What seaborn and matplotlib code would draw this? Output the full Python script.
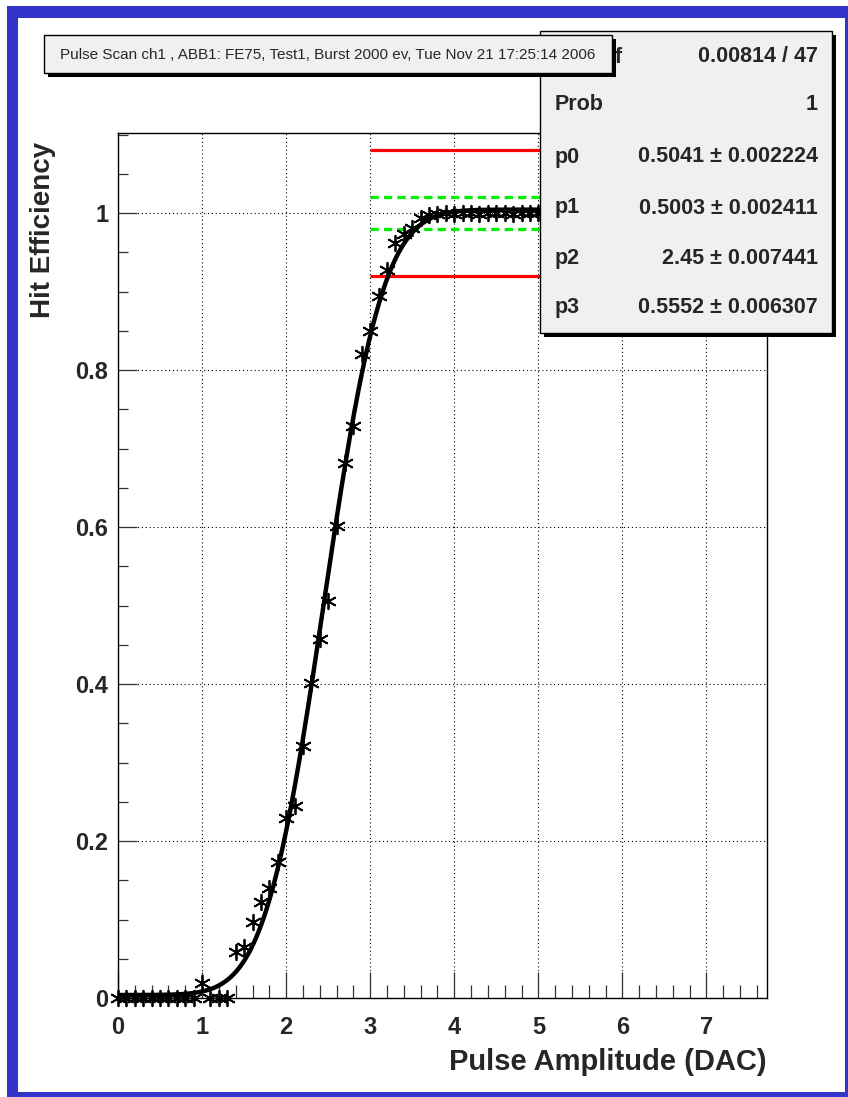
import math
import numpy as np
import pandas as pd
import matplotlib
matplotlib.use("Agg")
import matplotlib.pyplot as plt
from matplotlib.patches import Rectangle
from matplotlib.ticker import MultipleLocator, FuncFormatter
import seaborn as sns

# ---- pulse scan data (channel 1) ----
pulse_dac = [0.0, 0.1, 0.2, 0.3, 0.4, 0.5, 0.6, 0.7, 0.8, 0.9,
             1.0, 1.1, 1.2, 1.3, 1.4, 1.5, 1.6, 1.7, 1.8, 1.9,
             2.0, 2.1, 2.2, 2.3, 2.4, 2.5, 2.6, 2.7, 2.8, 2.9,
             3.0, 3.1, 3.2, 3.3, 3.4, 3.5, 3.6, 3.7, 3.8, 3.9,
             4.0, 4.1, 4.2, 4.3, 4.4, 4.5, 4.6, 4.7, 4.8, 4.9, 5.0]
hit_eff = [0.0, 0.0, 0.0, 0.0, 0.0, 0.0, 0.0, 0.0, 0.0, 0.0,
           0.019, 0.0, 0.0, 0.0, 0.059, 0.065, 0.097, 0.122, 0.140, 0.173,
           0.229, 0.245, 0.321, 0.401, 0.457, 0.506, 0.601, 0.681, 0.729, 0.820,
           0.850, 0.894, 0.927, 0.962, 0.973, 0.981, 0.994, 0.997, 0.999, 1.0,
           0.999, 1.0, 1.0, 0.999, 1.0, 1.0, 1.0, 0.999, 1.0, 1.0, 1.0]

# ---- fit result: p0 + p1 * erf((x - p2) / (sqrt(2) * p3)) ----
par_names = ["p0", "p1", "p2", "p3"]
par_values = [0.5041, 0.5003, 2.45, 0.5552]
par_errors = ["0.002224", "0.002411", "0.007441", "0.006307"]
chi2_ndf = "0.00814 / 47"
fit_prob = "1"
fit_range = [0.0, 5.0]

# ---- tolerance bands ----
band_start = 3.0
outer_band = [0.92, 1.08]
inner_band = [0.98, 1.02]

title_text = "Pulse Scan ch1 , ABB1: FE75, Test1, Burst 2000 ev, Tue Nov 21 17:25:14 2006"
x_title = "Pulse Amplitude (DAC)"
y_title = "Hit Efficiency"

W, H = 848, 1097
sns.set_style("ticks")
plt.rcParams["font.family"] = ["Liberation Sans", "DejaVu Sans"]

fig = plt.figure(figsize=(W / 100, H / 100), dpi=100, facecolor="white")


def fx(px):
    return px / W


def fy(py):
    return 1 - py / H


left, right, top, bottom = 118, 767, 133, 998
ax = fig.add_axes([fx(left), fy(bottom), (right - left) / W, (bottom - top) / H])
ax.set_facecolor("white")

scan = pd.DataFrame({"dac": pulse_dac, "eff": hit_eff})
p0, p1, p2, p3 = par_values
xf = np.linspace(fit_range[0], fit_range[1], 500)
yf = [p0 + p1 * math.erf((v - p2) / (math.sqrt(2) * p3)) for v in xf]
fit = pd.DataFrame({"dac": xf, "eff": yf})

# axis ranges, ticks and grid
ax.set_xlim(0, 7.72)
ax.set_ylim(0, 1.102)
ax.xaxis.set_major_locator(MultipleLocator(1))
ax.xaxis.set_minor_locator(MultipleLocator(0.2))
ax.yaxis.set_major_locator(MultipleLocator(0.2))
ax.yaxis.set_minor_locator(MultipleLocator(0.05))
ax.grid(True, which="major", color="black", linestyle=(0, (1, 2.5)), linewidth=0.8)

# tolerance bands
for yb in outer_band:
    ax.hlines(yb, band_start, 7.72, color="#ff0000", linewidth=2.3, zorder=3)
for yb in inner_band:
    ax.hlines(yb, band_start, 7.72, color="#00ee00", linewidth=2.3,
              linestyles=(0, (2.6, 1.6)), zorder=3)

sns.scatterplot(data=scan, x="dac", y="eff", ax=ax, marker=(6, 2, 0), s=125,
                color="black", linewidth=1.3, zorder=4, clip_on=False)
sns.lineplot(data=fit, x="dac", y="eff", ax=ax, color="black", linewidth=3.2,
             zorder=5)

for sp in ax.spines.values():
    sp.set_visible(True)
    sp.set_color("black")
    sp.set_linewidth(1.0)

ax.tick_params(axis="x", which="major", direction="in", length=18.5, width=0.9,
               top=False, bottom=True, labelsize=17, pad=13, color="#333333")
ax.tick_params(axis="x", which="minor", direction="in", length=9.3, width=0.9,
               top=False, bottom=True, color="#333333")
ax.tick_params(axis="y", which="major", direction="in", length=14, width=0.9,
               right=False, left=True, labelsize=17, pad=7, color="#333333")
ax.tick_params(axis="y", which="minor", direction="in", length=7, width=0.9,
               right=False, left=True, color="#333333")
ax.yaxis.set_major_formatter(FuncFormatter(lambda v, p: f"{v:.1f}".rstrip("0").rstrip(".") if v else "0"))
ax.xaxis.set_major_formatter(FuncFormatter(lambda v, p: f"{v:g}"))
for lab in ax.get_xticklabels() + ax.get_yticklabels():
    lab.set_fontweight("bold")

ax.set_xlabel(x_title, loc="right", fontsize=21, fontweight="bold")
ax.xaxis.set_label_coords(1.0, -0.058)
ax.set_ylabel(y_title, loc="top", fontsize=20, fontweight="bold")
ax.yaxis.set_label_coords(-0.095, 0.99)

# ---- canvas frame ----
blue = "#3434cc"
fig.add_artist(Rectangle((fx(7), 0), fx(11), 1 - 6 / H, transform=fig.transFigure,
                         color=blue, zorder=10, lw=0))
fig.add_artist(Rectangle((fx(7), fy(18)), 1, 12 / H, transform=fig.transFigure,
                         color=blue, zorder=10, lw=0))
fig.add_artist(Rectangle((fx(845), 0), 1, 1 - 6 / H, transform=fig.transFigure,
                         color=blue, zorder=10, lw=0))
fig.add_artist(Rectangle((fx(7), 0), 1, 5 / H, transform=fig.transFigure,
                         color=blue, zorder=10, lw=0))


def pave(x0, y0, x1, y1, z):
    # drop shadow, then the box itself
    fig.add_artist(Rectangle((fx(x0 + 4), fy(y1 + 4)), (x1 - x0) / W, (y1 - y0) / H,
                             transform=fig.transFigure, facecolor="black",
                             edgecolor="none", zorder=z))
    fig.add_artist(Rectangle((fx(x0), fy(y1)), (x1 - x0) / W, (y1 - y0) / H,
                             transform=fig.transFigure, facecolor="#f0f0f0",
                             edgecolor="black", linewidth=1.0, zorder=z + 0.1))


# statistics box
pave(540, 31, 832, 333, 6)
stat_rows = [("Prob", fit_prob)]
for name, val, err in zip(par_names, par_values, par_errors):
    stat_rows.append((name, f"{val:g}" + " ± " + err))
row_y = [105, 157, 208, 258, 308]
fig.text(fx(622), fy(57), "χ² / ndf", ha="right", va="center", fontsize=15.5,
         fontweight="bold", zorder=7)
fig.text(fx(818), fy(57), chi2_ndf, ha="right", va="center", fontsize=15.5,
         fontweight="bold", zorder=7)
for (name, val), yy in zip(stat_rows, row_y):
    fig.text(fx(555), fy(yy), name, ha="left", va="center", fontsize=15.5,
             fontweight="bold", zorder=7)
    fig.text(fx(818), fy(yy), val, ha="right", va="center", fontsize=15.5,
             fontweight="bold", zorder=7)

# title box
pave(44, 35, 612, 73, 8)
fig.text(fx(328), fy(55), title_text, ha="center", va="center", fontsize=11,
         zorder=9)

fig.savefig("out.png", dpi=100, facecolor="white")
